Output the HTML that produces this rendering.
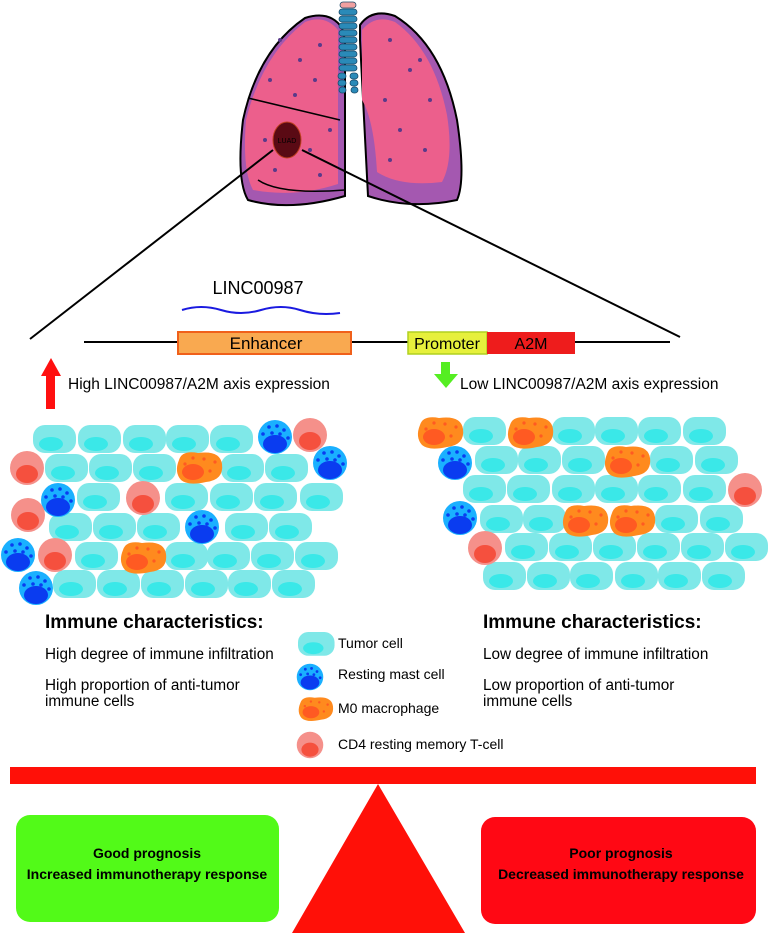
<!DOCTYPE html>
<html><head><meta charset="utf-8"><style>
body{margin:0;background:#fff}
svg{display:block;font-family:"Liberation Sans",Arial,sans-serif}
</style></head><body>
<svg width="770" height="933" viewBox="0 0 770 933" xmlns="http://www.w3.org/2000/svg">
<defs>
<g id="t"><rect x="0" y="0" width="43" height="28" rx="12" fill="#7fe8e8"/><ellipse cx="18" cy="19" rx="12" ry="7" fill="#3ae8e8"/></g>
<g id="m"><circle r="17" fill="#1ab0ff"/><ellipse cx="0" cy="7" rx="12" ry="9" fill="#0a3cf0"/>
<circle cx="-6" cy="-10" r="1.8" fill="#0a3cf0"/><circle cx="2" cy="-11" r="1.8" fill="#0a3cf0"/><circle cx="9" cy="-7" r="1.8" fill="#0a3cf0"/><circle cx="-12" cy="-3" r="1.8" fill="#0a3cf0"/><circle cx="-3" cy="-4" r="1.8" fill="#0a3cf0"/><circle cx="5" cy="-3" r="1.8" fill="#0a3cf0"/><circle cx="13" cy="1" r="1.8" fill="#0a3cf0"/></g>
<g id="p"><circle r="17" fill="#f5908a"/><ellipse cx="0" cy="6" rx="11" ry="9" fill="#f5503e"/></g>
<g id="o"><path d="M3 8 Q6 -2 22 1 Q44 -2 46 12 Q48 28 30 30 Q12 34 5 28 Q-2 20 3 8Z" fill="#ff8a1e"/><ellipse cx="17" cy="20" rx="11" ry="8" fill="#ff5a22"/>
<circle cx="9" cy="12" r="1.6" fill="#ff5a22"/><circle cx="17" cy="6" r="1.6" fill="#ff5a22"/><circle cx="28" cy="7" r="1.6" fill="#ff5a22"/><circle cx="39" cy="10" r="1.6" fill="#ff5a22"/><circle cx="34" cy="19" r="1.6" fill="#ff5a22"/></g>
</defs>

<!-- lungs -->
<g stroke="#000" stroke-width="2">
<path d="M342 28 Q330 10 305 18 Q258 50 243 120 Q236 180 248 200 Q290 212 345 196 L345 40Z" fill="#a458b0"/>
<path d="M338 30 Q325 14 305 22 Q262 55 246 120 Q242 170 253 190 Q295 198 338 184Z" fill="#ec5f8c" stroke="none"/>
<path d="M360 25 Q372 8 395 16 Q442 45 457 120 Q466 180 457 200 Q410 210 368 196 L360 40Z" fill="#a458b0"/>
<path d="M362 30 Q375 14 395 22 Q434 50 447 115 Q454 160 442 182 Q400 187 377 172 Q374 120 362 100Z" fill="#ec5f8c" stroke="none"/>
</g>
<path d="M248 98 L340 120" stroke="#000" stroke-width="1.5" fill="none"/>
<path d="M258 180 Q280 195 345 190" stroke="#000" stroke-width="1.5" fill="none"/>
<g fill="#2a8ab8" stroke="#1a4a6a" stroke-width="0.8">
<rect x="340" y="2" width="16" height="6" rx="3" fill="#f0a0a0"/>
<rect x="339" y="9" width="18" height="6" rx="3"/><rect x="339" y="16" width="18" height="6" rx="3"/><rect x="339" y="23" width="18" height="6" rx="3"/><rect x="339" y="30" width="18" height="6" rx="3"/><rect x="339" y="37" width="18" height="6" rx="3"/><rect x="339" y="44" width="18" height="6" rx="3"/><rect x="339" y="51" width="18" height="6" rx="3"/><rect x="339" y="58" width="18" height="6" rx="3"/><rect x="339" y="65" width="18" height="6" rx="3"/>
<rect x="338" y="73" width="8" height="6" rx="3"/><rect x="350" y="73" width="8" height="6" rx="3"/><rect x="338" y="80" width="8" height="6" rx="3"/><rect x="350" y="80" width="8" height="6" rx="3"/><rect x="339" y="87" width="7" height="6" rx="3"/><rect x="351" y="87" width="7" height="6" rx="3"/>
</g>
<g fill="#5a3a8a">
<circle cx="280" cy="40" r="2"/><circle cx="300" cy="60" r="2"/><circle cx="320" cy="45" r="2"/><circle cx="270" cy="80" r="2"/><circle cx="295" cy="95" r="2"/><circle cx="315" cy="80" r="2"/><circle cx="265" cy="140" r="2"/><circle cx="310" cy="150" r="2"/><circle cx="330" cy="130" r="2"/><circle cx="275" cy="170" r="2"/><circle cx="320" cy="175" r="2"/>
<circle cx="390" cy="40" r="2"/><circle cx="410" cy="70" r="2"/><circle cx="430" cy="100" r="2"/><circle cx="385" cy="100" r="2"/><circle cx="400" cy="130" r="2"/><circle cx="425" cy="150" r="2"/><circle cx="390" cy="160" r="2"/><circle cx="420" cy="60" r="2"/>
</g>
<ellipse cx="287" cy="140" rx="14" ry="18" fill="#5a0a14" stroke="#c04020" stroke-width="1"/>
<text x="287" y="143" font-size="7" text-anchor="middle" fill="#000">LUAD</text>

<line x1="273" y1="150" x2="30" y2="339" stroke="#000" stroke-width="2"/>
<line x1="302" y1="150" x2="680" y2="337" stroke="#000" stroke-width="2"/>

<!-- gene -->
<line x1="84" y1="342" x2="670" y2="342" stroke="#000" stroke-width="2"/>
<text x="258" y="294" font-size="18" text-anchor="middle">LINC00987</text>
<path d="M182 310 Q201 304 221 310 T261 310 T300 310 T340 313" stroke="#1a1ae0" stroke-width="2" fill="none"/>
<rect x="178" y="332" width="173" height="22" fill="#f9a950" stroke="#f0601a" stroke-width="2"/>
<text x="266" y="349" font-size="17" text-anchor="middle">Enhancer</text>
<rect x="408" y="332" width="79" height="22" fill="#e6f03c" stroke="#b0d020" stroke-width="1.5"/>
<rect x="487" y="332" width="88" height="22" fill="#ee1c1c"/>
<text x="447" y="349" font-size="16" text-anchor="middle">Promoter</text>
<text x="531" y="349" font-size="16" text-anchor="middle">A2M</text>

<!-- arrows -->
<rect x="46" y="373" width="9" height="36" fill="#ff1010"/><polygon points="41,376 51,358 61,376" fill="#ff1010"/>
<text x="68" y="389" font-size="15.5">High LINC00987/A2M axis expression</text>
<rect x="441" y="362" width="9" height="14" fill="#55ee22"/><polygon points="434,374 446,388 458,374" fill="#55ee22"/>
<text x="460" y="389" font-size="15.5">Low LINC00987/A2M axis expression</text>

<!-- left cluster -->
<use href="#t" x="33" y="425"/><use href="#t" x="78" y="425"/><use href="#t" x="123" y="425"/><use href="#t" x="166" y="425"/><use href="#t" x="210" y="425"/>
<use href="#t" x="45" y="454"/><use href="#t" x="89" y="454"/><use href="#t" x="133" y="454"/><use href="#t" x="221" y="454"/><use href="#t" x="265" y="454"/>
<use href="#t" x="77" y="483"/><use href="#t" x="165" y="483"/><use href="#t" x="210" y="483"/><use href="#t" x="254" y="483"/><use href="#t" x="300" y="483"/>
<use href="#t" x="49" y="513"/><use href="#t" x="93" y="513"/><use href="#t" x="137" y="513"/><use href="#t" x="225" y="513"/><use href="#t" x="269" y="513"/>
<use href="#t" x="75" y="542"/><use href="#t" x="165" y="542"/><use href="#t" x="207" y="542"/><use href="#t" x="251" y="542"/><use href="#t" x="295" y="542"/>
<use href="#t" x="53" y="570"/><use href="#t" x="97" y="570"/><use href="#t" x="141" y="570"/><use href="#t" x="185" y="570"/><use href="#t" x="228" y="570"/><use href="#t" x="272" y="570"/>
<use href="#m" x="275" y="437"/><use href="#p" x="310" y="435"/>
<use href="#p" x="27" y="468"/><use href="#o" x="176" y="452"/><use href="#m" x="330" y="463"/>
<use href="#m" x="58" y="500"/><use href="#p" x="143" y="498"/>
<use href="#p" x="28" y="515"/><use href="#m" x="202" y="527"/>
<use href="#m" x="18" y="555"/><use href="#p" x="55" y="555"/><use href="#o" x="120" y="542"/>
<use href="#m" x="36" y="588"/>

<!-- right cluster -->
<use href="#t" x="463" y="417"/><use href="#t" x="552" y="417"/><use href="#t" x="595" y="417"/><use href="#t" x="638" y="417"/><use href="#t" x="683" y="417"/>
<use href="#t" x="475" y="446"/><use href="#t" x="518" y="446"/><use href="#t" x="562" y="446"/><use href="#t" x="650" y="446"/><use href="#t" x="695" y="446"/>
<use href="#t" x="463" y="475"/><use href="#t" x="507" y="475"/><use href="#t" x="552" y="475"/><use href="#t" x="595" y="475"/><use href="#t" x="638" y="475"/><use href="#t" x="683" y="475"/>
<use href="#t" x="480" y="505"/><use href="#t" x="523" y="505"/><use href="#t" x="655" y="505"/><use href="#t" x="700" y="505"/>
<use href="#t" x="505" y="533"/><use href="#t" x="549" y="533"/><use href="#t" x="593" y="533"/><use href="#t" x="637" y="533"/><use href="#t" x="681" y="533"/><use href="#t" x="725" y="533"/>
<use href="#t" x="483" y="562"/><use href="#t" x="527" y="562"/><use href="#t" x="570" y="562"/><use href="#t" x="615" y="562"/><use href="#t" x="658" y="562"/><use href="#t" x="702" y="562"/>
<use href="#o" x="417" y="417"/><use href="#o" x="507" y="417"/>
<use href="#m" x="455" y="463"/><use href="#o" x="604" y="446"/>
<use href="#p" x="745" y="490"/>
<use href="#m" x="460" y="518"/><use href="#o" x="562" y="505"/><use href="#o" x="609" y="505"/>
<use href="#p" x="485" y="548"/>

<!-- text -->
<text x="45" y="628" font-size="19" font-weight="bold">Immune characteristics:</text>
<text x="45" y="659" font-size="15.3">High degree of immune infiltration</text>
<text x="45" y="690" font-size="15.3">High proportion of anti-tumor</text>
<text x="45" y="706" font-size="15.3">immune cells</text>
<text x="483" y="628" font-size="19" font-weight="bold">Immune characteristics:</text>
<text x="483" y="659" font-size="15.3">Low degree of immune infiltration</text>
<text x="483" y="690" font-size="15.3">Low proportion of anti-tumor</text>
<text x="483" y="706" font-size="15.3">immune cells</text>

<!-- legend -->
<g transform="translate(298,632) scale(0.85)"><use href="#t"/></g>
<text x="338" y="648" font-size="14">Tumor cell</text>
<g transform="translate(310,677) scale(0.78)"><use href="#m"/></g>
<text x="338" y="679" font-size="14">Resting mast cell</text>
<g transform="translate(298,697) scale(0.76)"><use href="#o"/></g>
<text x="338" y="713" font-size="14">M0 macrophage</text>
<g transform="translate(310,745) scale(0.78)"><use href="#p"/></g>
<text x="338" y="749" font-size="14">CD4 resting memory T-cell</text>

<!-- balance -->
<rect x="10" y="767" width="746" height="17" fill="#ff1008"/>
<polygon points="378,784 292,933 465,933" fill="#ff1008"/>
<rect x="16" y="815" width="263" height="107" rx="14" fill="#52fa18"/>
<rect x="481" y="817" width="275" height="107" rx="14" fill="#ff0814"/>
<g font-size="14" font-weight="bold" text-anchor="middle" fill="#000">
<text x="147" y="858">Good prognosis</text>
<text x="147" y="879">Increased immunotherapy response</text>
<text x="621" y="858">Poor prognosis</text>
<text x="621" y="879">Decreased immunotherapy response</text>
</g>
</svg>
</body></html>
